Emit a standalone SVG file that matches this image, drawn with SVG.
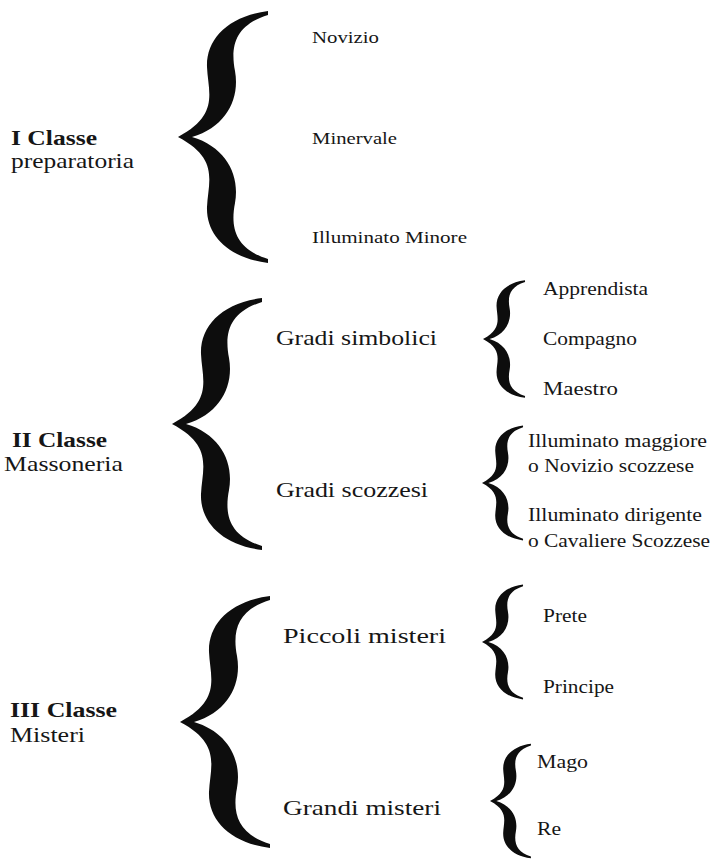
<svg xmlns="http://www.w3.org/2000/svg" xmlns:xlink="http://www.w3.org/1999/xlink" width="715" height="861" viewBox="0 0 715 861">
<style>
text{font-family:"Liberation Serif","Times New Roman",serif;fill:#161616}
.cls{font-size:22px;font-weight:bold}
.sub{font-size:22px}
.mid{font-size:22px}
.top{font-size:16.5px}
.sm{font-size:18px}
.brace{fill:#0d0d0d}
</style>
<defs>
<path id="br" d="M 90,-126 C 50,-121 28,-98 29,-70 C 30,-45 42,-22 0,0 C 42,22 30,45 29,70 C 28,98 50,121 90,126 L 90,122 C 58,112 52,92 57,66 C 62,38 48,10 14,0 C 48,-10 62,-38 57,-66 C 52,-92 58,-112 90,-122 Z"/>
</defs>
<rect width="715" height="861" fill="#fff"/>
<g id="connectors" class="brace">
<use xlink:href="#br" transform="translate(178,137)"/>
<use xlink:href="#br" transform="translate(172,424)"/>
<use xlink:href="#br" transform="translate(180,722)"/>
<use xlink:href="#br" transform="translate(483,339) scale(0.467)"/>
<use xlink:href="#br" transform="translate(482,483) scale(0.456)"/>
<use xlink:href="#br" transform="translate(482,642) scale(0.456)"/>
<use xlink:href="#br" transform="translate(490,801) scale(0.455)"/>
</g>
<g id="classe1"><text class="cls" x="11" y="145" textLength="86" lengthAdjust="spacingAndGlyphs">I Classe</text><text class="sub" x="11" y="168" textLength="123" lengthAdjust="spacingAndGlyphs">preparatoria</text></g>
<g id="classe2"><text class="cls" x="12" y="447" textLength="95" lengthAdjust="spacingAndGlyphs">II Classe</text><text class="sub" x="4" y="471" textLength="119" lengthAdjust="spacingAndGlyphs">Massoneria</text></g>
<g id="classe3"><text class="cls" x="10" y="717" textLength="107" lengthAdjust="spacingAndGlyphs">III Classe</text><text class="sub" x="10" y="742" textLength="75" lengthAdjust="spacingAndGlyphs">Misteri</text></g>
<g id="novizio"><text class="top" x="312" y="43" textLength="67" lengthAdjust="spacingAndGlyphs">Novizio</text></g>
<g id="minervale"><text class="top" x="312" y="144" textLength="85" lengthAdjust="spacingAndGlyphs">Minervale</text></g>
<g id="illuminato-minore"><text class="top" x="312" y="243" textLength="155" lengthAdjust="spacingAndGlyphs">Illuminato Minore</text></g>
<g id="gradi-simbolici"><text class="mid" x="276" y="345" textLength="161" lengthAdjust="spacingAndGlyphs">Gradi simbolici</text></g>
<g id="gradi-scozzesi"><text class="mid" x="276" y="497" textLength="152" lengthAdjust="spacingAndGlyphs">Gradi scozzesi</text></g>
<g id="piccoli-misteri"><text class="mid" x="283" y="643" textLength="163" lengthAdjust="spacingAndGlyphs">Piccoli misteri</text></g>
<g id="grandi-misteri"><text class="mid" x="283" y="815" textLength="158" lengthAdjust="spacingAndGlyphs">Grandi misteri</text></g>
<g id="apprendista"><text class="sm" x="543" y="295" textLength="105" lengthAdjust="spacingAndGlyphs">Apprendista</text></g>
<g id="compagno"><text class="sm" x="543" y="345" textLength="94" lengthAdjust="spacingAndGlyphs">Compagno</text></g>
<g id="maestro"><text class="sm" x="543" y="395" textLength="75" lengthAdjust="spacingAndGlyphs">Maestro</text></g>
<g id="illuminato-maggiore"><text class="sm" x="528" y="447" textLength="179" lengthAdjust="spacingAndGlyphs">Illuminato maggiore</text><text class="sm" x="528" y="472" textLength="166" lengthAdjust="spacingAndGlyphs">o Novizio scozzese</text></g>
<g id="illuminato-dirigente"><text class="sm" x="528" y="521" textLength="174" lengthAdjust="spacingAndGlyphs">Illuminato dirigente</text><text class="sm" x="528" y="547" textLength="182" lengthAdjust="spacingAndGlyphs">o Cavaliere Scozzese</text></g>
<g id="prete"><text class="sm" x="543" y="622" textLength="44" lengthAdjust="spacingAndGlyphs">Prete</text></g>
<g id="principe"><text class="sm" x="543" y="693" textLength="71" lengthAdjust="spacingAndGlyphs">Principe</text></g>
<g id="mago"><text class="sm" x="537" y="768" textLength="51" lengthAdjust="spacingAndGlyphs">Mago</text></g>
<g id="re"><text class="sm" x="537" y="835" textLength="24" lengthAdjust="spacingAndGlyphs">Re</text></g>
</svg>
